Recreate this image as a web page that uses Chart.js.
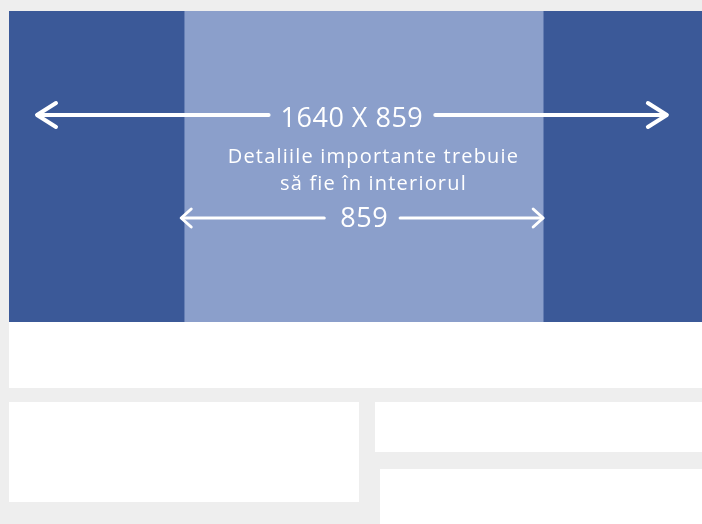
<!DOCTYPE html>
<html>
<head>
<meta charset="utf-8">
<script src="https://cdn.jsdelivr.net/npm/chart.js@4"></script>
<style>
  html, body { margin:0; padding:0; width:702px; height:524px; overflow:hidden; background:#eeeeee; position:relative; }
  .panel { position:absolute; background:#ffffff; }
  #cover { position:absolute; left:9px; top:11px; }
</style>
</head>
<body>
<div class="panel" style="left:9px;top:322px;width:693px;height:66px"></div>
<div class="panel" style="left:9px;top:402px;width:350px;height:100px"></div>
<div class="panel" style="left:375px;top:402px;width:327px;height:50px"></div>
<div class="panel" style="left:380px;top:469px;width:322px;height:55px"></div>
<canvas id="cover" width="693" height="311"></canvas>
<script>
/* -------- DATA (cover pixels, safe zone = 859) -------- */
const sections      = ["Margine stânga", "Zona sigură", "Margine dreaptă"];
const sectionWidths = [419, 859, 380];
const fullLabel     = "1640 X 859";
const safeLabel     = "859";
const noteLines     = ["Detaliile importante trebuie", "să fie în interiorul"];
const fullArrow     = [67, 1574];
const safeArrow     = [412, 1278];

const sectionColors = ["#3b5998", "#8b9fcb", "#3b5998"];
const totalWidth = sectionWidths.reduce((a, b) => a + b, 0);

/* -------- ARROWS + TEXT -------- */
function drawArrow(ctx, x1, x2, y, gapCenter, gapHalf, lw, armX, armY){
  ctx.save();
  ctx.strokeStyle = "#ffffff";
  ctx.lineWidth = lw;
  ctx.lineCap = "round";
  ctx.lineJoin = "round";
  ctx.beginPath();
  ctx.moveTo(x1 + 1, y); ctx.lineTo(gapCenter - gapHalf, y);
  ctx.moveTo(gapCenter + gapHalf, y); ctx.lineTo(x2 - 1, y);
  ctx.stroke();
  ctx.beginPath();
  ctx.moveTo(x1 + armX, y - armY); ctx.lineTo(x1, y); ctx.lineTo(x1 + armX, y + armY);
  ctx.moveTo(x2 - armX, y - armY); ctx.lineTo(x2, y); ctx.lineTo(x2 - armX, y + armY);
  ctx.stroke();
  ctx.restore();
}

const coverOverlay = {
  id: "coverOverlay",
  afterDatasetsDraw: (chart) => {
    const {ctx, chartArea, scales} = chart;
    const x = scales.x;
    const top = chartArea.top;

    ctx.save();
    ctx.fillStyle = "#ffffff";
    ctx.textAlign = "center";
    ctx.textBaseline = "alphabetic";

    // full width arrow
    let a1 = x.getPixelForValue(fullArrow[0]);
    let a2 = x.getPixelForValue(fullArrow[1]);
    let mid = (a1 + a2) / 2;
    ctx.font = "400 27px 'Open Sans'";
    ctx.letterSpacing = "0.5px";
    let w = ctx.measureText(fullLabel).width;
    ctx.fillText(fullLabel, mid, top + 116);
    drawArrow(ctx, a1, a2, top + 104, mid, w / 2 + 12, 4, 19, 12);

    // note
    ctx.font = "400 20px 'Open Sans'";
    ctx.letterSpacing = "1.2px";
    let nx = x.getPixelForValue(872);
    ctx.fillText(noteLines[0], nx, top + 152);
    ctx.fillText(noteLines[1], nx, top + 179);

    // safe zone arrow
    let b1 = x.getPixelForValue(safeArrow[0]);
    let b2 = x.getPixelForValue(safeArrow[1]);
    let mid2 = (b1 + b2) / 2;
    ctx.font = "400 27px 'Open Sans'";
    ctx.letterSpacing = "0.5px";
    let w2 = ctx.measureText(safeLabel).width;
    ctx.fillText(safeLabel, mid2 + 2, top + 216);
    drawArrow(ctx, b1, b2, top + 207, mid2, w2 / 2 + 14, 3, 10, 9);

    ctx.restore();
  }
};

new Chart(document.getElementById("cover"), {
  type: "bar",
  data: {
    labels: ["cover"],
    datasets: sections.map((s, i) => ({
      label: s,
      data: [sectionWidths[i]],
      backgroundColor: sectionColors[i],
      borderWidth: 0,
      categoryPercentage: 1,
      barPercentage: 1
    }))
  },
  options: {
    indexAxis: "y",
    responsive: false,
    animation: false,
    layout: { padding: 0 },
    scales: {
      x: { stacked: true, display: false, min: 0, max: totalWidth },
      y: { stacked: true, display: false }
    },
    plugins: { legend: { display: false }, tooltip: { enabled: false } }
  },
  plugins: [coverOverlay]
});
</script>
</body>
</html>
